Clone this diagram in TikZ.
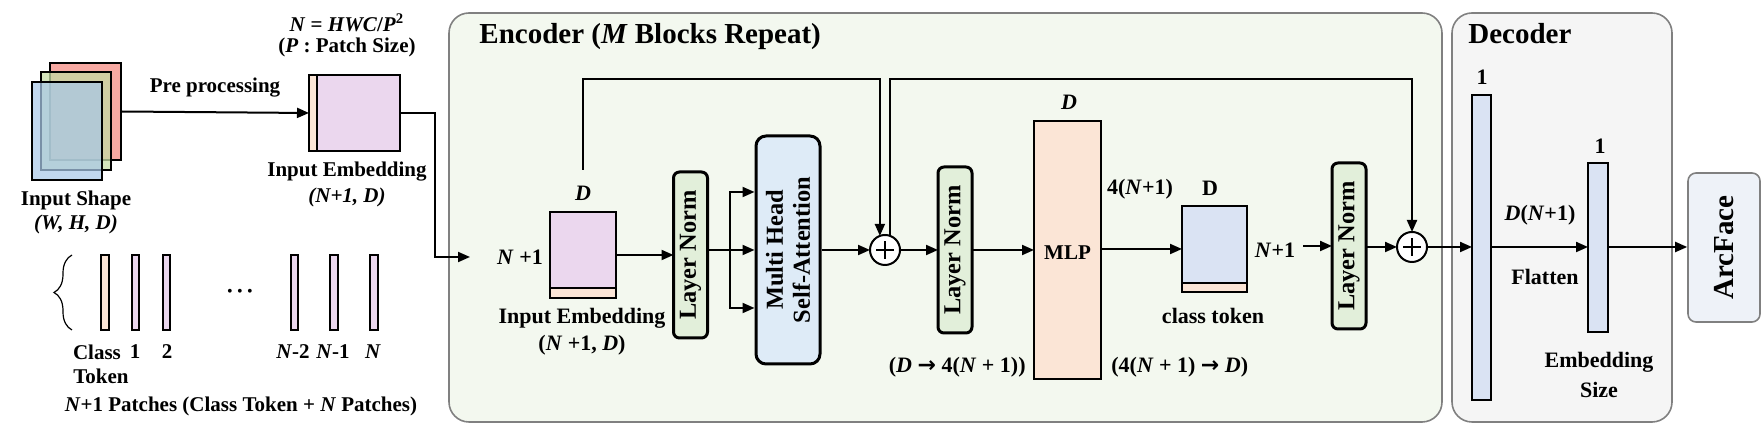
\documentclass[tikz,border=0pt]{standalone}
\usepackage{fontspec}
\setmainfont{Liberation Serif}
\newfontfamily\arrowfont{DejaVu Sans}
\usetikzlibrary{arrows.meta,decorations.pathreplacing,calc}
\definecolor{encbg}{HTML}{F3F8EF}
\definecolor{decbg}{HTML}{F5F5F5}
\definecolor{arcbg}{HTML}{EEF2F8}
\definecolor{framegray}{HTML}{808080}
\definecolor{lnfill}{HTML}{E2EFDA}
\definecolor{mhfill}{HTML}{DEEBF7}
\definecolor{peach}{HTML}{FBE5D6}
\definecolor{pinkf}{HTML}{EBD7EE}
\definecolor{bluef}{HTML}{DAE3F3}
\definecolor{redsh}{HTML}{F7A9A2}
\definecolor{greensh}{HTML}{C4DBA4}
\definecolor{bluesh}{HTML}{A9C8E8}
\tikzset{
  arr/.style={line width=1pt,-{Triangle[length=6pt,width=5pt]}},
  ln/.style={line width=1pt},
  box/.style={draw,line width=1pt,inner sep=0pt,outer sep=0pt},
  lnbox/.style={draw,line width=1.5pt,fill=lnfill,rounded corners=3pt,inner sep=0pt,outer sep=0pt,minimum width=17pt,minimum height=83pt},
  plusnode/.style={circle,draw,line width=1pt,fill=white,minimum size=15pt,inner sep=0pt,outer sep=0pt,
    path picture={\draw[line width=1.4pt] ([xshift=-4.5pt]path picture bounding box.center) -- ([xshift=4.5pt]path picture bounding box.center);
      \draw[line width=1.4pt] ([yshift=-4.5pt]path picture bounding box.center) -- ([yshift=4.5pt]path picture bounding box.center);}},
  lbl/.style={font=\fontsize{11}{13}\selectfont\bfseries,inner sep=1pt},
  slbl/.style={font=\fontsize{10.5}{12.5}\selectfont\bfseries,inner sep=1pt},
  rtxt/.style={rotate=90,font=\fontsize{12.2}{13.5}\selectfont\bfseries,align=center,inner sep=0pt},
  ttl/.style={font=\fontsize{14.5}{16}\selectfont\bfseries,inner sep=0pt,anchor=west},
}
\begin{document}
\begin{tikzpicture}[x=0.5pt,y=-0.5pt]
\useasboundingbox (0,0) rectangle (1761,431);
% frames
\node[draw=framegray,line width=0.8pt,fill=encbg,rounded corners=10pt,minimum width=496.5pt,minimum height=204.5pt,inner sep=0pt] (enc) at (945.5,217.5) {};
\node[draw=framegray,line width=0.8pt,fill=decbg,rounded corners=10pt,minimum width=110pt,minimum height=204.5pt,inner sep=0pt] (dec) at (1562,217.5) {};
\node[draw=framegray,line width=0.8pt,fill=arcbg,rounded corners=4pt,minimum width=36pt,minimum height=74.5pt,inner sep=0pt] (arc) at (1724,247.5) {};
\node[rotate=90,font=\fontsize{14.5}{16}\selectfont\bfseries] at (arc) {ArcFace};
\node[ttl] (enct) at (479,37) {Encoder (\textit{M} Blocks Repeat)};
\node[ttl] (dect) at (1468,34) {Decoder};

% input shapes
\node[box,fill=redsh,minimum width=35.5pt,minimum height=48.5pt] (inR) at (85.5,111.5) {};
\node[box,fill=greensh,fill opacity=0.75,minimum width=35pt,minimum height=49pt] (inG) at (76,121) {};
\node[box,fill=bluesh,fill opacity=0.72,minimum width=35pt,minimum height=49pt] (inB) at (67,131) {};
\node[slbl] (inl1) at (76,200) {Input Shape};
\node[slbl] (inl2) at (76,224) {\textit{(W, H, D)}};

% first embedding
\node[box,fill=peach,minimum width=4pt,minimum height=38pt] (embAs) at (313,113) {};
\node[box,fill=pinkf,minimum width=41.5pt,minimum height=38pt] (embA) at (358.5,113) {};
\node[slbl] (form) at (347,23) {\textit{N} = \textit{HWC}/\textit{P}\textsuperscript{2}};
\node[slbl] (psz) at (347,47) {(\textit{P} : Patch Size)};
\node[slbl] (embl1) at (347,172) {Input Embedding};
\node[slbl] (embl2) at (347,197) {\textit{(N+1, D)}};
\draw[arr] (inR.east) -- node[slbl,above=6pt] (pre) {Pre processing} (embAs.west);

% patches
\draw[line width=0.6pt,decorate,decoration={brace,amplitude=9pt,aspect=0.5}] (72,330) -- (72,255);
\node[draw,line width=1pt,fill=peach,minimum width=4pt,minimum height=37.5pt,inner sep=0pt] (pc) at (105,292.5) {};
\node[draw,line width=1pt,fill=pinkf,minimum width=3.6pt,minimum height=37.5pt,inner sep=0pt] (p1) at (135.5,292.5) {};
\node[draw,line width=1pt,fill=pinkf,minimum width=3.6pt,minimum height=37.5pt,inner sep=0pt] (p2) at (166.5,292.5) {};
\node[draw,line width=1pt,fill=pinkf,minimum width=3.6pt,minimum height=37.5pt,inner sep=0pt] (pn2) at (294.5,292.5) {};
\node[draw,line width=1pt,fill=pinkf,minimum width=3.6pt,minimum height=37.5pt,inner sep=0pt] (pn1) at (334,292.5) {};
\node[draw,line width=1pt,fill=pinkf,minimum width=3.6pt,minimum height=37.5pt,inner sep=0pt] (pn) at (374,292.5) {};
\node[font=\fontsize{8}{8}\selectfont,inner sep=0pt] (dots) at (240,293) {\textbullet\hspace{2.2pt}\textbullet\hspace{2.2pt}\textbullet};
\node[slbl] (lc) at (97,352) {Class};
\node[slbl] (lt) at (101,376) {Token};
\node[slbl] (l1) at (135,352) {1};
\node[slbl] (l2) at (167,352) {2};
\node[slbl] (ln2l) at (293,352) {\textit{N}-2};
\node[slbl] (ln1l) at (333,352) {\textit{N}-1};
\node[slbl] (lnl) at (373,352) {\textit{N}};
\node[slbl] (patches) at (241,406) {\textit{N}+1 Patches (Class Token + \textit{N} Patches)};

% into encoder
\coordinate (turn) at (435,113);
\coordinate (cin) at (470,257);
\draw[arr] (embA.east) -- (turn) |- (cin);

% encoder internals
\node[lbl] (np1) at (520,257) {\textit{N} +1};
\node[box,fill=pinkf,minimum width=33pt,minimum height=43pt] (embB) at (583,255) {};
\node[box,fill=peach,minimum width=33pt,minimum height=5pt] (embBs) at (583,293) {};
\node[lbl] (dB) at (583,193) {\textit{D}};
\node[lbl] (embBl1) at (582,318) {Input Embedding};
\node[lbl] (embBl2) at (582,345) {(\textit{N} +1, \textit{D})};

\node[lnbox] (ln1) at (690.5,255) {};
\node[rtxt] at (ln1) {Layer Norm};
\draw[arr] (embB.east) -- (ln1.west);

\node[draw,line width=1.5pt,fill=mhfill,rounded corners=5pt,minimum width=32pt,minimum height=114pt,inner sep=0pt] (mhsa) at (788,250) {};
\node[rtxt] at (mhsa) {Multi Head\\Self-Attention};
\coordinate (br) at (730,250);
\coordinate (br1) at (730,192);
\coordinate (br3) at (730,308);
\draw[ln] (ln1.east |- br) -- (br);
\draw[arr] (br) -- (br -| mhsa.west);
\draw[arr] (br) -- (br1) -- (br1 -| mhsa.west);
\draw[arr] (br) -- (br3) -- (br3 -| mhsa.west);

\node[plusnode] (plus1) at (885,250) {};
\draw[arr] (mhsa.east) -- (plus1.west);

\coordinate (sk1s) at (583,170);
\coordinate (top) at (0,79);
\draw[arr] (sk1s) |- (plus1.110 |- top) -- (plus1.110);

\node[lnbox] (ln2) at (955,250) {};
\node[rtxt] at (ln2) {Layer Norm};
\draw[arr] (plus1.east) -- (ln2.west);

\node[box,fill=peach,minimum width=33.5pt,minimum height=129pt] (mlp) at (1067.5,250) {};
\node[font=\fontsize{10.5}{12}\selectfont\bfseries] at ([yshift=-1.5pt]mlp.center) {MLP};
\node[lbl] (dM) at (1069,102) {\textit{D}};
\draw[arr] (ln2.east) -- (mlp.west);
\node[lbl,anchor=east] (mlpin) at (1028,367) {(\textit{D} {\arrowfont →} 4(\textit{N} + 1))};
\node[lbl,anchor=west] (mlpout) at (1109,367) {(4(\textit{N} + 1) {\arrowfont →} \textit{D})};
\node[lbl] (fourn) at (1140,189) {4(\textit{N}+1)};

\node[box,fill=bluef,minimum width=32.5pt,minimum height=43pt] (ctok) at (1214.5,249) {};
\node[box,fill=peach,minimum width=32.5pt,minimum height=4.5pt] (ctoks) at (1214.5,287.5) {};
\node[lbl] (dC) at (1210,188) {D};
\node[lbl] (ctl) at (1213,316) {class token};
\draw[arr] (mlp.east |- ctok) -- (ctok.west);

\node[lbl] (np1b) at (1275,250) {\textit{N}+1};
\node[lnbox] (ln3) at (1349,246) {};
\node[rtxt] at (ln3) {Layer Norm};
\draw[arr] ([xshift=3pt]np1b.east |- ln3) -- (ln3.west);

\node[plusnode] (plus2) at (1412,247) {};
\draw[arr] (ln3.east |- plus2) -- (plus2.west);
\draw[arr] (plus1.70) |- (plus2.north |- top) -- (plus2.north);

% decoder
\node[box,fill=bluef,minimum width=9.5pt,minimum height=152.5pt] (bar1) at (1481.5,247.5) {};
\node[box,fill=bluef,minimum width=10pt,minimum height=84.5pt] (bar2) at (1598,247.5) {};
\node[lbl] (one1) at (1482,77) {1};
\node[lbl] (one2) at (1600,146) {1};
\draw[arr] (plus2.east) -- (plus2.east -| bar1.west);
\draw[arr] (bar1.east |- plus2) -- (plus2 -| bar2.west);
\node[lbl] (dn1) at (1540,215) {\textit{D}(\textit{N}+1)};
\node[lbl] (flat) at (1545,277) {Flatten};
\node[lbl] (emsz1) at (1599,362) {Embedding};
\node[lbl] (emsz2) at (1599,390) {Size};
\draw[arr] (bar2.east |- plus2) -- (plus2 -| arc.west);
\end{tikzpicture}
\end{document}
